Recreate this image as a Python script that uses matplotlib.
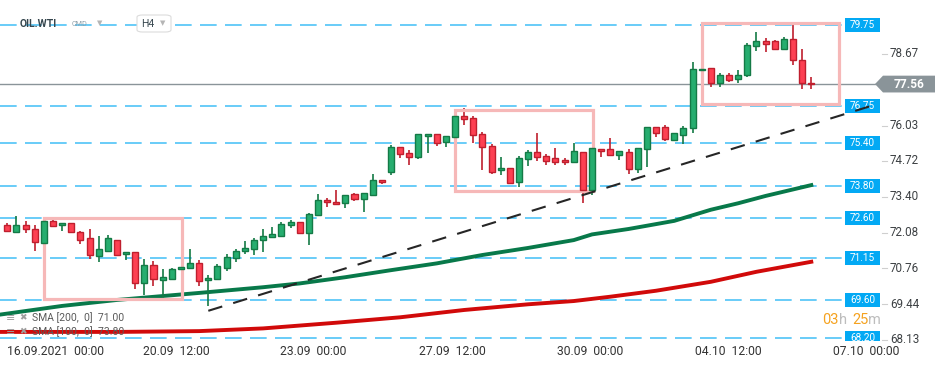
import numpy as np
import matplotlib
matplotlib.use("Agg")
import matplotlib.pyplot as plt
from matplotlib.patches import Rectangle, Polygon, FancyBboxPatch
from matplotlib.transforms import blended_transform_factory

plt.rcParams['font.family'] = ['Roboto', 'DejaVu Sans']

# OIL.WTI, H4 candles (16.09.2021 -> 06.10.2021)
opens = [72.35, 72.09, 72.35, 72.20, 71.68, 72.49, 72.36, 72.42, 72.11, 71.87,
         71.20, 71.41, 71.79, 71.28, 71.35, 70.21, 70.87, 70.32, 70.35, 70.72,
         70.76, 70.94, 70.32, 70.35, 70.76, 71.13, 71.39, 71.46, 71.79, 71.90,
         71.94, 72.35, 72.46, 72.05, 72.71, 73.27, 73.19, 73.16, 73.49, 73.31,
         73.45, 74.01, 74.30, 75.23, 75.00, 74.86, 75.63, 75.71, 75.41, 75.59,
         76.37, 76.30, 75.71, 75.26, 74.38, 74.45, 73.93, 74.78, 75.04, 74.89,
         74.82, 74.75, 74.67, 75.04, 73.65, 75.15, 75.15, 74.93, 75.04, 74.41,
         75.15, 75.96, 75.96, 75.48, 75.67, 75.93, 78.08, 78.14, 77.59, 77.88,
         77.74, 77.88, 78.95, 79.14, 79.14, 78.84, 79.21, 78.44, 77.59]
highs = [72.42, 72.69, 72.49, 72.36, 72.50, 72.54, 72.44, 72.44, 72.12, 72.21,
         71.95, 71.99, 71.80, 71.36, 71.36, 71.10, 71.03, 70.73, 70.76, 70.82,
         71.47, 71.05, 70.50, 70.92, 71.29, 71.47, 71.77, 71.89, 72.21, 72.29,
         72.46, 72.53, 72.47, 72.81, 73.49, 73.34, 73.65, 73.46, 73.53, 73.54,
         74.23, 74.02, 75.30, 75.24, 75.11, 75.72, 75.72, 75.72, 75.64, 76.42,
         76.68, 76.37, 75.78, 75.34, 74.86, 74.46, 74.89, 75.11, 75.76, 74.97,
         75.19, 74.82, 75.37, 75.05, 75.20, 75.16, 75.56, 75.09, 75.15, 75.20,
         75.97, 75.97, 76.04, 75.75, 76.00, 78.36, 78.11, 78.15, 77.96, 77.96,
         78.07, 79.06, 79.47, 79.25, 79.18, 79.29, 79.77, 78.84, 77.81]
lows = [72.12, 72.08, 72.05, 71.41, 71.68, 72.27, 72.12, 72.08, 71.65, 71.09,
        71.00, 71.37, 71.23, 71.05, 70.01, 69.77, 70.12, 69.67, 70.35, 70.70,
        70.76, 70.12, 69.38, 70.35, 70.65, 70.98, 71.29, 71.24, 71.37, 71.90,
        71.90, 72.24, 72.01, 71.61, 72.71, 73.01, 73.12, 72.97, 73.23, 72.83,
        73.41, 73.86, 74.19, 74.82, 74.56, 74.78, 75.00, 75.26, 75.23, 75.58,
        76.04, 75.37, 74.38, 74.25, 74.19, 73.89, 73.75, 74.52, 74.71, 74.56,
        74.56, 74.56, 74.63, 73.16, 73.45, 74.86, 74.92, 74.75, 74.23, 74.27,
        74.49, 75.59, 75.45, 75.47, 75.34, 75.76, 78.07, 77.46, 77.46, 77.63,
        77.59, 77.81, 78.77, 78.73, 78.81, 78.81, 78.25, 77.37, 77.37]
closes = [72.12, 72.35, 72.20, 71.72, 72.49, 72.32, 72.42, 72.09, 71.79, 71.24,
          71.46, 71.87, 71.24, 71.35, 70.21, 70.87, 70.35, 70.43, 70.72, 70.80,
          70.94, 70.28, 70.39, 70.83, 71.16, 71.39, 71.50, 71.79, 71.94, 72.01,
          72.38, 72.46, 72.05, 72.75, 73.27, 73.19, 73.12, 73.45, 73.31, 73.53,
          74.01, 73.93, 75.23, 74.97, 74.86, 75.71, 75.71, 75.37, 75.63, 76.37,
          76.26, 75.67, 75.23, 74.30, 74.45, 73.90, 74.82, 75.04, 74.86, 74.71,
          74.67, 74.67, 75.08, 73.65, 75.19, 75.08, 74.93, 75.08, 74.41, 75.19,
          75.96, 75.74, 75.52, 75.74, 75.93, 78.10, 78.10, 77.59, 77.88, 77.70,
          77.88, 78.99, 79.14, 79.03, 78.84, 79.21, 78.44, 77.59, 77.56]

# moving averages, read at some candles
sma100_idx = [-1, 6, 12, 21, 28, 32, 37, 42, 47, 52, 57, 62, 64, 68, 73, 77, 80, 83, 88]
sma100 = [69.04, 69.37, 69.59, 69.85, 70.06, 70.20, 70.43, 70.69, 70.94, 71.25,
          71.51, 71.80, 72.01, 72.21, 72.51, 72.92, 73.16, 73.43, 73.83]
sma200_idx = [-1, 12, 21, 28, 36, 43, 50, 57, 62, 66, 71, 77, 82, 88]
sma200 = [68.41, 68.41, 68.44, 68.54, 68.75, 68.95, 69.22, 69.43, 69.55, 69.71,
          69.93, 70.26, 70.63, 71.00]

levels = [79.75, 76.75, 75.40, 73.80, 72.60, 71.15, 69.60, 68.20]
price_ticks = [78.67, 76.03, 74.72, 73.40, 72.08, 70.76, 69.44, 68.13]

trend_x = [22.0, 95.2]
trend_y = [69.19, 76.82]

# zones: x from, x to, low, high
boxes = [(3.98, 19.09, 69.62, 72.60),
         (49.0, 64.08, 73.61, 76.60),
         (76.07, 91.07, 76.83, 79.82)]

date_pos = [0, 18.5, 33.5, 48.7, 63.8, 78.9, 94.0]
date_labels = ['16.09.2021  00:00', '20.09  12:00', '23.09  00:00', '27.09  12:00',
               '30.09  00:00', '04.10  12:00', '07.10  00:00']

last_price = closes[-1]

fig = plt.figure(figsize=(9.5, 3.65), dpi=100)
ax = fig.add_axes([0, 24/365, 880/950, 341/365])
ax.set_xlim(-0.8, 95.52)
ax.set_ylim(68.075, 80.663)
for s in ax.spines.values():
    s.set_visible(False)
ax.set_yticks([])
ax.set_xticks(date_pos)
ax.set_xticklabels(date_labels)
ax.tick_params(axis='x', length=0, pad=3, labelsize=8.7, labelcolor='#333333')
ax.get_xticklabels()[0].set_horizontalalignment('left')

tr = blended_transform_factory(ax.transAxes, ax.transData)

# horizontal levels with blue tags
for p in levels:
    ax.axhline(p, xmin=0, xmax=845/880, color='#4fc3f7', lw=1.2, dashes=(10, 5), zorder=1)
    ax.add_patch(Rectangle((845/880, p - 0.258), 35/880, 0.517, transform=tr,
                           fc='#03a9f4', ec='none', zorder=6))
    ax.text(862.5/880, p, f'{p:.2f}', transform=tr, ha='center', va='center',
            color='white', fontsize=7.2, zorder=7, clip_on=True)

# zones
for x0, x1, y0, y1 in boxes:
    ax.add_patch(Rectangle((x0, y0), x1 - x0, y1 - y0, fill=False, ec='#f6b8b8',
                           lw=2.3, zorder=4.5))

ax.plot(sma100_idx, sma100, color='#08794a', lw=2.8, zorder=3)
ax.plot(sma200_idx, sma200, color='#d10a0a', lw=2.8, zorder=3)

# candles
idx = np.arange(len(opens))
o = np.array(opens); c = np.array(closes); h = np.array(highs); l = np.array(lows)
up = c >= o
fill = np.where(up, '#26ad6f', '#fd4052')
edge = np.where(up, '#147a46', '#bf1f2e')
ax.vlines(idx, l, h, colors=edge, lw=1.2, zorder=4)
ax.bar(idx, np.maximum(np.abs(c - o), 0.03), bottom=np.minimum(o, c), width=0.66,
       color=fill, edgecolor=edge, linewidth=1.0, zorder=5)

ax.plot(trend_x, trend_y, color='#262626', lw=1.5, dashes=(7, 5.5), zorder=8)

# current price line + tag
ax.axhline(last_price, xmax=875/880, color='#8a9499', lw=1, zorder=2)
tag = Polygon([(875/880, last_price), (883/880, last_price + 0.31), (935/880, last_price + 0.31),
               (935/880, last_price - 0.31), (883/880, last_price - 0.31)],
              closed=True, transform=tr, fc='#8a9499', ec='none', clip_on=False, zorder=9)
ax.add_patch(tag)
ax.text(909/880, last_price, f'{last_price:.2f}', transform=tr, ha='center', va='center',
        color='white', fontsize=8.6, fontweight='bold', zorder=10)

# price scale
for p in price_ticks:
    ax.plot([882/880, 887/880], [p, p], transform=tr, color='#cfcfcf', lw=0.8, clip_on=False)
    ax.text(890/880, p, f'{p:.2f}', transform=tr, ha='left', va='center',
            color='#3c4043', fontsize=8.4)

# header
fig.text(20/950, 1 - 24/365, 'OIL.WTI', fontsize=7.5, fontweight='bold', color='#37474f', va='center')
fig.text(72/950, 1 - 24/365, 'CMD', fontsize=5.2, color='#8fa0aa', va='center')
fig.text(97/950, 1 - 23/365, '▼', fontsize=5, color='#b5b5b5', va='center',
         family=['DejaVu Sans'])
fig.patches.append(FancyBboxPatch((137/950, 1 - 32/365), 34/950, 17/365,
                                  boxstyle='round,pad=0,rounding_size=0.006',
                                  transform=fig.transFigure, fc='white', ec='#dcdcdc', lw=0.8))
fig.text(141/950, 1 - 24/365, 'H4', fontsize=7.5, color='#37474f', va='center')
fig.text(160/950, 1 - 23/365, '▼', fontsize=5, color='#b5b5b5', va='center',
         family=['DejaVu Sans'])

# sma legend
for yy, txt in [(318, 'SMA [200,  0]  71.00'), (332, 'SMA [100,  0]  73.80')]:
    fig.text(6/950, 1 - yy/365, '≡', fontsize=8, color='#9e9e9e', va='center',
             family=['DejaVu Sans'])
    fig.text(19/950, 1 - yy/365, '✖', fontsize=6.5, color='#9e9e9e', va='center',
             family=['DejaVu Sans'])
    fig.text(32/950, 1 - yy/365, txt, fontsize=7.5, color='#5a5a5a', va='center')

# countdown
for xx, txt, col in [(822, '03', '#f5a21f'), (839, 'h', '#bdbdbd'),
                     (852, '25', '#f5a21f'), (868, 'm', '#bdbdbd')]:
    fig.text(xx/950, 1 - 320/365, txt, fontsize=10.5, color=col, va='center')

fig.savefig('out.png', dpi=100)
